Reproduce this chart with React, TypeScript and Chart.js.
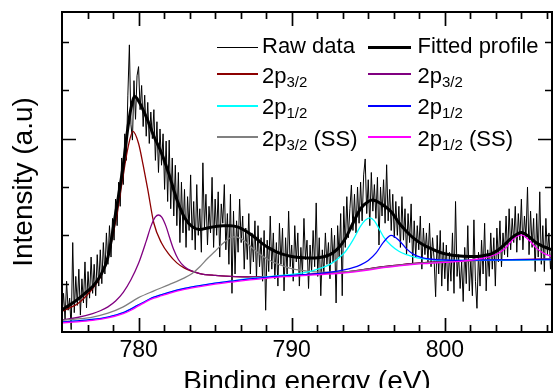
import React, { useEffect, useRef } from "react";
import { Chart, registerables } from "chart.js";

Chart.register(...registerables);

const FONT = "'Liberation Sans', Arial, Helvetica, sans-serif";

// ---- axes ----
const xMin = 775;
const xMax = 807;
const yMin = 0;
const yMax = 6.62;
const xMajorTicks = [780, 790, 800];
const xMinorPerMajor = 6;
const yTickValues = [1, 2, 3, 4, 5, 6];
const yMajorTickValues = [4];

// ---- raw spectrum (0.1 eV steps from 775.0 eV) ----
const rawStart = 775;
const rawStep = 0.1;
const rawIntensity = [
  0.35, 0.80, 0.25, 1.05, 0.45, 0.70, 0.05, 1.85, 0.40, 1.15,
  0.55, 1.30, 0.35, 1.10, 0.60, 1.45, 0.50, 1.25, 0.70, 1.55,
  0.80, 1.40, 0.75, 1.60, 0.95, 1.70, 1.00, 1.85, 1.20, 2.05,
  1.40, 2.20, 1.55, 2.35, 1.90, 2.75, 2.20, 3.10, 2.60, 3.60,
  3.05, 4.10, 3.55, 4.90, 5.94, 4.30, 3.97, 5.20, 4.40, 5.30,
  5.49, 4.60, 5.10, 4.25, 4.90, 4.05, 4.75, 3.90, 4.55, 4.00,
  4.60, 3.55, 4.35, 3.30, 4.20, 3.45, 4.10, 2.95, 3.95, 2.70,
  3.97, 2.55, 3.60, 2.40, 3.45, 2.20, 3.30, 1.85, 3.10, 2.05,
  2.95, 1.75, 2.80, 2.10, 3.25, 1.90, 2.70, 1.70, 3.05, 2.00,
  2.55, 1.65, 3.50, 2.15, 2.85, 1.80, 2.60, 2.05, 3.20, 1.75,
  2.75, 2.00, 2.90, 1.55, 2.65, 2.25, 3.05, 1.70, 2.45, 1.40,
  2.85, 0.80, 2.50, 1.20, 2.30, 1.65, 2.75, 1.85, 2.40, 1.30,
  2.15, 1.50, 2.45, 1.20, 2.05, 1.45, 2.30, 1.10, 2.20, 1.35,
  1.95, 1.05, 2.10, 0.45, 1.90, 1.25, 2.40, 1.30, 2.05, 1.10,
  1.85, 0.95, 2.25, 1.40, 2.15, 0.85, 1.95, 1.20, 2.50, 1.35,
  1.80, 1.05, 2.20, 1.45, 2.05, 0.95, 1.75, 1.20, 2.35, 1.50,
  1.90, 0.90, 1.80, 1.25, 2.10, 1.35, 2.67, 1.15, 1.95, 0.75,
  1.70, 1.20, 2.05, 1.40, 1.85, 1.10, 2.15, 1.45, 2.00, 0.60,
  2.20, 1.55, 2.45, 0.75, 2.60, 1.75, 2.80, 1.95, 2.55, 3.04,
  2.10, 2.85, 2.05, 3.00, 2.25, 3.10, 2.30, 3.25, 3.58, 2.45,
  3.15, 2.20, 3.30, 2.50, 3.05, 2.35, 3.20, 1.80, 3.00, 2.40,
  3.15, 2.25, 3.46, 2.30, 2.95, 2.10, 2.85, 1.95, 2.70, 2.00,
  2.60, 1.75, 2.80, 1.90, 2.55, 1.60, 2.45, 1.85, 2.65, 1.40,
  2.30, 1.55, 2.20, 1.70, 2.40, 1.30, 2.15, 1.60, 2.05, 1.45,
  2.25, 1.35, 1.95, 1.50, 0.73, 2.00, 1.20, 2.10, 0.95, 1.85,
  1.10, 1.80, 0.85, 1.65, 1.05, 2.05, 0.80, 2.70, 1.15, 1.60,
  0.90, 1.45, 0.63, 1.75, 1.00, 2.20, 0.85, 1.50, 0.75, 2.32,
  1.05, 0.49, 1.65, 0.95, 1.90, 1.20, 2.25, 0.85, 1.70, 1.15,
  2.05, 1.30, 1.95, 0.95, 2.15, 1.45, 2.30, 1.35, 2.05, 1.60,
  2.40, 1.55, 2.55, 1.70, 2.35, 1.85, 2.60, 1.65, 2.45, 1.90,
  2.75, 1.70, 2.40, 1.95, 3.00, 1.60, 2.50, 1.75, 2.35, 1.25,
  2.45, 1.55, 2.90, 1.40, 2.20, 1.25, 2.35, 1.60, 2.05, 1.30,
  1.90,
];

// ---- fitted envelope ----
const fitX = [775, 775.5, 776, 776.5, 777, 777.5, 778, 778.5, 779, 779.3, 779.5, 779.75, 780, 780.5, 781, 781.5, 782, 782.5, 783, 783.5, 784, 784.5, 785, 785.5, 786, 786.5, 787, 787.5, 788, 788.5, 789, 789.5, 790, 790.5, 791, 791.5, 792, 792.5, 793, 793.5, 794, 794.5, 795, 795.3, 795.8, 796.5, 797, 797.5, 798, 798.5, 799, 799.5, 800, 801, 802, 802.5, 803, 803.5, 804, 804.5, 805, 805.5, 806, 806.5, 807];
const fitY = [0.46, 0.56, 0.67, 0.80, 0.94, 1.16, 1.55, 2.45, 3.45, 4.22, 4.62, 4.87, 4.78, 4.45, 4.05, 3.70, 3.25, 2.74, 2.37, 2.18, 2.12, 2.15, 2.18, 2.20, 2.20, 2.17, 2.09, 1.98, 1.85, 1.74, 1.66, 1.60, 1.56, 1.54, 1.53, 1.53, 1.55, 1.60, 1.72, 1.93, 2.25, 2.55, 2.70, 2.73, 2.66, 2.49, 2.26, 2.08, 1.93, 1.82, 1.74, 1.67, 1.62, 1.57, 1.56, 1.58, 1.61, 1.70, 1.84, 1.98, 2.06, 1.97, 1.84, 1.76, 1.70];

// ---- 2p3/2 (main, dark red) ----
const redX = [775, 775.5, 776, 776.5, 777, 777.5, 778, 778.3, 778.6, 779, 779.3, 779.63, 780, 780.3, 780.6, 781, 781.5, 782, 782.5, 783, 784, 785, 786, 787, 788, 789, 790, 792, 794, 796, 798, 800, 803, 807];
const redY = [0.43, 0.50, 0.58, 0.72, 0.90, 1.13, 1.55, 1.97, 2.45, 3.25, 3.80, 4.15, 3.90, 3.45, 2.95, 2.25, 1.84, 1.60, 1.43, 1.32, 1.21, 1.17, 1.15, 1.14, 1.14, 1.15, 1.17, 1.21, 1.26, 1.35, 1.42, 1.46, 1.49, 1.51];

// ---- 2p3/2 (second, purple) ----
const purpleX = [775, 776, 777, 777.5, 778, 778.5, 779, 779.5, 780, 780.5, 780.8, 781.1, 781.3, 781.5, 781.8, 782, 782.3, 782.6, 783, 783.5, 784, 785, 786, 787, 788, 789, 790, 792, 794, 796, 798, 800, 803, 807];
const purpleY = [0.25, 0.30, 0.38, 0.44, 0.52, 0.64, 0.82, 1.08, 1.42, 1.88, 2.18, 2.38, 2.42, 2.38, 2.18, 1.98, 1.70, 1.50, 1.35, 1.26, 1.21, 1.17, 1.15, 1.14, 1.14, 1.15, 1.17, 1.21, 1.26, 1.35, 1.42, 1.46, 1.49, 1.51];

// ---- 2p1/2 (cyan) ----
const cyanX = [775, 776, 777, 778, 779, 780, 781, 782, 783, 784, 785, 786, 787, 788, 789, 790, 791, 791.5, 792, 792.5, 793, 793.5, 794, 794.5, 794.8, 795.1, 795.4, 795.7, 796, 796.5, 797, 797.5, 798, 798.5, 799, 800, 801, 803, 805, 807];
const cyanY = [0.21, 0.23, 0.26, 0.31, 0.40, 0.56, 0.72, 0.82, 0.90, 0.96, 1.01, 1.05, 1.10, 1.13, 1.16, 1.19, 1.24, 1.28, 1.33, 1.40, 1.51, 1.66, 1.90, 2.19, 2.31, 2.36, 2.30, 2.14, 1.97, 1.79, 1.67, 1.60, 1.55, 1.52, 1.50, 1.48, 1.48, 1.48, 1.49, 1.50];

// ---- 2p1/2 (second, blue) ----
const blueX = [775, 776, 777, 778, 779, 780, 781, 782, 783, 784, 785, 786, 787, 788, 789, 790, 792, 793, 793.5, 794, 794.5, 795, 795.5, 796, 796.5, 797, 797.5, 798, 798.5, 799, 800, 801, 803, 807];
const blueY = [0.21, 0.23, 0.26, 0.31, 0.40, 0.56, 0.72, 0.82, 0.90, 0.96, 1.01, 1.05, 1.09, 1.12, 1.15, 1.17, 1.22, 1.26, 1.29, 1.33, 1.39, 1.48, 1.63, 1.86, 2.00, 1.90, 1.72, 1.60, 1.54, 1.51, 1.49, 1.48, 1.49, 1.50];

// ---- 2p3/2 (SS, gray) ----
const grayX = [775, 776, 777, 778, 779, 780, 781, 782, 783, 783.5, 784, 784.5, 785, 785.5, 786, 786.3, 786.7, 787, 787.5, 788, 788.5, 789, 789.5, 790, 791, 792, 793, 794, 796, 798, 800, 803, 807];
const grayY = [0.24, 0.27, 0.31, 0.39, 0.52, 0.71, 0.85, 0.98, 1.12, 1.21, 1.35, 1.52, 1.67, 1.83, 1.95, 1.97, 1.93, 1.86, 1.72, 1.59, 1.49, 1.42, 1.36, 1.31, 1.26, 1.24, 1.24, 1.26, 1.34, 1.41, 1.45, 1.48, 1.50];

// ---- 2p1/2 (SS, magenta) ----
const magentaX = [775, 776, 777, 778, 779, 779.5, 780, 780.5, 781, 781.5, 782, 783, 784, 785, 786, 787, 788, 789, 790, 791, 792, 793, 794, 795, 796, 797, 798, 799, 800, 801, 802, 802.5, 803, 803.5, 804, 804.5, 805, 805.5, 806, 806.5, 807];
const magentaY = [0.19, 0.21, 0.24, 0.29, 0.38, 0.45, 0.54, 0.63, 0.70, 0.75, 0.80, 0.88, 0.94, 0.99, 1.03, 1.07, 1.10, 1.13, 1.15, 1.17, 1.19, 1.21, 1.24, 1.28, 1.33, 1.37, 1.40, 1.42, 1.44, 1.46, 1.50, 1.53, 1.57, 1.63, 1.75, 1.93, 2.01, 1.90, 1.73, 1.62, 1.56];

const RED = "#8c0000";
const PURPLE = "#800080";
const CYAN = "#00ffff";
const BLUE = "#0000ff";
const GRAY = "#808080";
const MAGENTA = "#ff00ff";

const toPoints = (xs: number[], ys: number[]) => xs.map((x, i) => ({ x, y: ys[i] }));

const framePlugin = {
  id: "frameTicks",
  afterDatasetsDraw(chart: any) {
    const { ctx, chartArea, scales } = chart;
    const { left, right, top, bottom } = chartArea;
    const xs = scales.x;
    const ys = scales.y;
    ctx.save();
    ctx.strokeStyle = "#000";
    ctx.lineWidth = 2;
    ctx.strokeRect(left, top, right - left, bottom - top);
    ctx.lineWidth = 1.7;
    ctx.beginPath();
    const step = (xMajorTicks[1] - xMajorTicks[0]) / xMinorPerMajor;
    for (let k = -40; k <= 60; k++) {
      const v = xMajorTicks[0] + k * step;
      if (v <= xMin + 1e-6 || v >= xMax - 1e-6) continue;
      const major = ((k % xMinorPerMajor) + xMinorPerMajor) % xMinorPerMajor === 0;
      const len = major ? 14 : 7;
      const px = Math.round(xs.getPixelForValue(v)) + 0.5;
      ctx.moveTo(px, bottom);
      ctx.lineTo(px, bottom - len);
      ctx.moveTo(px, top);
      ctx.lineTo(px, top + len);
    }
    for (const v of yTickValues) {
      const major = yMajorTickValues.includes(v);
      const len = major ? 14 : 7;
      const py = Math.round(ys.getPixelForValue(v)) + 0.5;
      ctx.moveTo(left, py);
      ctx.lineTo(left + len, py);
      ctx.moveTo(right, py);
      ctx.lineTo(right - len, py);
    }
    ctx.stroke();
    ctx.restore();
  },
};

const legendItems = [
  { main: "Raw data", sub: "", tail: "", color: "#000", w: 1, col: 0, row: 0 },
  { main: "Fitted profile", sub: "", tail: "", color: "#000", w: 3, col: 1, row: 0 },
  { main: "2p", sub: "3/2", tail: "", color: RED, w: 1.5, col: 0, row: 1 },
  { main: "2p", sub: "3/2", tail: "", color: PURPLE, w: 1.5, col: 1, row: 1 },
  { main: "2p", sub: "1/2", tail: "", color: CYAN, w: 1.5, col: 0, row: 2 },
  { main: "2p", sub: "1/2", tail: "", color: BLUE, w: 1.5, col: 1, row: 2 },
  { main: "2p", sub: "3/2", tail: " (SS)", color: GRAY, w: 1.5, col: 0, row: 3 },
  { main: "2p", sub: "1/2", tail: " (SS)", color: MAGENTA, w: 1.5, col: 1, row: 3 },
];
const colLineX = [[217, 258], [368, 411]];
const colTextX = [262, 417.5];
const rowLineY = [47, 74, 106, 137];
const rowBaseY = [54, 84, 115, 147];

function Legend() {
  return (
    <>
      {legendItems.map((it, i) => (
        <React.Fragment key={i}>
          <div
            style={{
              position: "absolute",
              left: colLineX[it.col][0],
              top: rowLineY[it.row] - it.w / 2,
              width: colLineX[it.col][1] - colLineX[it.col][0],
              height: it.w,
              background: it.color,
            }}
          />
          <div
            style={{
              position: "absolute",
              left: colTextX[it.col],
              top: rowBaseY[it.row] - 18.6,
              fontFamily: FONT,
              fontSize: 22,
              lineHeight: "22px",
              color: "#000",
              whiteSpace: "pre",
            }}
          >
            {it.main}
            {it.sub ? (
              <span style={{ fontSize: 15, lineHeight: 1, position: "relative", top: 4 }}>{it.sub}</span>
            ) : null}
            {it.tail}
          </div>
        </React.Fragment>
      ))}
    </>
  );
}

export default function App() {
  const ref = useRef<HTMLCanvasElement>(null);
  useEffect(() => {
    if (!ref.current) return;
    const rawPoints = rawIntensity.map((y, i) => ({ x: +(rawStart + i * rawStep).toFixed(2), y }));
    const line = (label: string, data: any[], color: string, width: number, order: number) => ({
      label,
      data,
      borderColor: color,
      backgroundColor: color,
      borderWidth: width,
      pointRadius: 0,
      fill: false,
      order,
      cubicInterpolationMode: "monotone" as const,
    });
    const chart = new Chart(ref.current, {
      type: "line",
      data: {
        datasets: [
          { ...line("Raw data", rawPoints, "#000", 1, 7), cubicInterpolationMode: "default" as const, tension: 0 },
          line("2p3/2", toPoints(redX, redY), RED, 1.3, 6),
          line("2p3/2 ", toPoints(purpleX, purpleY), PURPLE, 1.3, 5),
          line("2p3/2 (SS)", toPoints(grayX, grayY), GRAY, 1.3, 4),
          line("2p1/2", toPoints(cyanX, cyanY), CYAN, 1.3, 3),
          line("2p1/2 ", toPoints(blueX, blueY), BLUE, 1.3, 2),
          line("2p1/2 (SS)", toPoints(magentaX, magentaY), MAGENTA, 1.3, 1),
          line("Fitted profile", toPoints(fitX, fitY), "#000", 3, 0),
        ],
      },
      options: {
        responsive: false,
        animation: false,
        devicePixelRatio: 1,
        layout: { padding: { top: 12, right: 2, left: 0, bottom: 0 } },
        plugins: { legend: { display: false }, tooltip: { enabled: false } },
        scales: {
          x: {
            type: "linear",
            min: xMin,
            max: xMax,
            grid: { display: false, drawTicks: false },
            border: { display: false },
            afterBuildTicks: (s: any) => {
              s.ticks = xMajorTicks.map((v) => ({ value: v }));
            },
            afterFit: (s: any) => {
              s.height = 56;
            },
            ticks: {
              font: { family: FONT, size: 23 },
              color: "#000",
              padding: 5,
              maxRotation: 0,
              autoSkip: false,
            },
            title: {
              display: true,
              text: "Binding energy (eV)",
              font: { family: FONT, size: 28, lineHeight: 1 },
              color: "#000",
              padding: { top: 0, bottom: -8 },
            },
          },
          y: {
            min: yMin,
            max: yMax,
            grid: { display: false, drawTicks: false },
            border: { display: false },
            ticks: { display: false },
            afterFit: (s: any) => {
              s.width = 62;
              if (!s.__titleShifted) {
                const orig = s.drawTitle.bind(s);
                s.drawTitle = () => {
                  s.ctx.save();
                  s.ctx.translate(0, 10);
                  orig();
                  s.ctx.restore();
                };
                s.__titleShifted = true;
              }
            },
            title: {
              display: true,
              text: "Intensity (a.u)",
              font: { family: FONT, size: 28, lineHeight: 1 },
              color: "#000",
              padding: { top: 10, bottom: 0 },
            },
          },
        },
      },
      plugins: [framePlugin],
    });
    return () => chart.destroy();
  }, []);

  return (
    <div style={{ position: "absolute", left: 0, top: 0, width: 554, height: 388, background: "#fff", overflow: "hidden" }}>
      <canvas ref={ref} width={554} height={388} style={{ width: 554, height: 388, display: "block" }} />
      <Legend />
    </div>
  );
}
